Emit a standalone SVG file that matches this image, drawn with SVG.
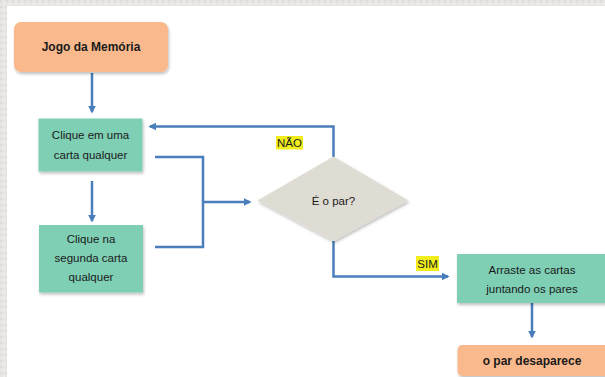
<svg xmlns="http://www.w3.org/2000/svg" width="605" height="377" viewBox="0 0 605 377">
  <defs>
    <filter id="sh" x="-10%" y="-10%" width="130%" height="140%">
      <feDropShadow dx="1" dy="2" stdDeviation="1.5" flood-color="#000" flood-opacity="0.25"/>
    </filter>
    <marker id="ah" viewBox="0 0 10 10" refX="8" refY="5" markerWidth="3.2" markerHeight="3.2" orient="auto-start-reverse" markerUnits="strokeWidth">
      <path d="M0,0 L10,5 L0,10 z" fill="#4A7EBB"/>
    </marker>
    <pattern id="tex" width="6" height="6" patternUnits="userSpaceOnUse">
      <rect width="6" height="6" fill="#E8E6E2"/>
      <rect x="0" y="0" width="2" height="2" fill="#DEDCD8"/>
      <rect x="3" y="3" width="2" height="2" fill="#F0EEEA"/>
    </pattern>
    <style>
      .conn { fill: none; stroke: #4A7EBB; stroke-width: 2.5; }
      .orange { fill: #F9B98C; }
      .teal { fill: #7FCFB5; }
      .diam { fill: #DEDCD3; }
      .t { font-family: "Liberation Sans", Arial, sans-serif; font-size: 11.5px; fill: #1a1a1a; text-anchor: middle; }
      .b { font-weight: bold; font-size: 12px; }
      .hl { fill: #F2EE1D; }
    </style>
  </defs>

  <rect x="0" y="0" width="605" height="377" fill="url(#tex)"/>
  <rect x="7" y="6" width="600" height="375" fill="#FFFFFF"/>

  <g id="connectors">
    <line class="conn" x1="92" y1="73" x2="92" y2="112" marker-end="url(#ah)"/>
    <line class="conn" x1="92" y1="181" x2="92" y2="221" marker-end="url(#ah)"/>
    <polyline class="conn" points="155,157 203,157 203,247 155,247"/>
    <line class="conn" x1="203" y1="202" x2="250" y2="202" stroke-width="3.5" marker-end="url(#ah)"/>
    <polyline class="conn" points="333.5,157 333.5,126.5 150,126.5" marker-end="url(#ah)"/>
    <polyline class="conn" points="333.5,241 333.5,276.5 448,276.5" marker-end="url(#ah)"/>
    <line class="conn" x1="532" y1="303" x2="532" y2="337" marker-end="url(#ah)"/>
    <rect class="hl" x="276" y="136" width="27" height="13.5"/>
    <text class="t" x="289.5" y="147" font-size="12">NÃO</text>
    <rect class="hl" x="416" y="256" width="23" height="15"/>
    <text class="t" x="427.5" y="268" font-size="12">SIM</text>
  </g>

  <g id="n_jogo">
    <rect class="orange" x="14" y="22" width="154" height="50" rx="7" filter="url(#sh)"/>
    <text class="t b" x="91" y="51">Jogo da Memória</text>
  </g>

  <g id="n_clique1">
    <rect class="teal" x="38.5" y="118.5" width="104" height="53" filter="url(#sh)"/>
    <text class="t" x="90.5" y="139">Clique em uma</text>
    <text class="t" x="90.5" y="158.5">carta qualquer</text>
  </g>

  <g id="n_clique2">
    <rect class="teal" x="39" y="225" width="104" height="67.5" filter="url(#sh)"/>
    <text class="t" x="91" y="242.5">Clique na</text>
    <text class="t" x="91" y="262">segunda carta</text>
    <text class="t" x="91" y="281">qualquer</text>
  </g>

  <g id="n_par">
    <polygon class="diam" points="333.5,156.5 408.5,200.5 333.5,241 257.5,200.5" filter="url(#sh)"/>
    <text class="t" x="333.5" y="205">É o par?</text>
  </g>

  <g id="n_arraste">
    <rect class="teal" x="457" y="254" width="152" height="49" filter="url(#sh)"/>
    <text class="t" x="532" y="273.5">Arraste as cartas</text>
    <text class="t" x="532" y="293">juntando os pares</text>
  </g>

  <g id="n_desaparece">
    <rect class="orange" x="457.5" y="345" width="152" height="31" rx="5" filter="url(#sh)"/>
    <text class="t b" x="532" y="365">o par desaparece</text>
  </g>
</svg>
